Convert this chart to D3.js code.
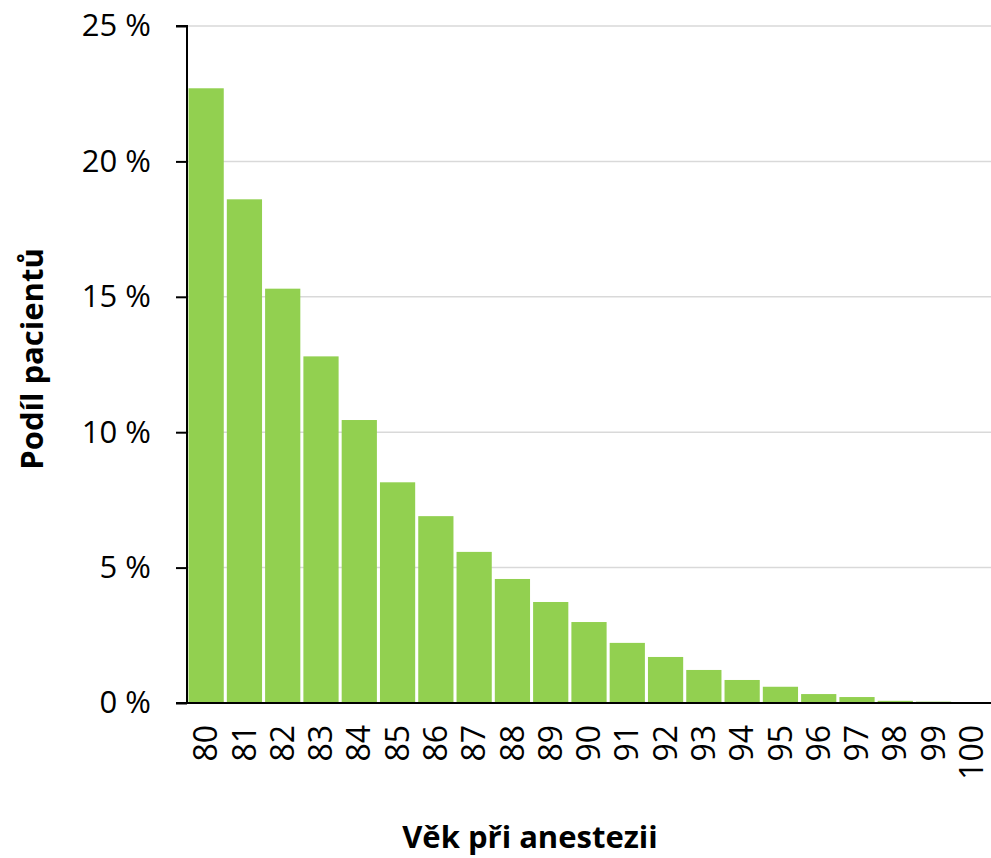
<!DOCTYPE html>
<html><head><meta charset="utf-8">
<script src="https://cdn.jsdelivr.net/npm/d3@7"></script>
<style>body{margin:0;background:#fff}</style>
</head><body>
<svg id="c" width="991" height="858"></svg>
<script>
const categories = ["80","81","82","83","84","85","86","87","88","89","90","91","92","93","94","95","96","97","98","99","100"];
const values = [22.7,18.6,15.3,12.8,10.45,8.15,6.9,5.58,4.58,3.73,2.99,2.22,1.7,1.22,0.85,0.6,0.33,0.22,0.08,0.05,0.01];
const yTicks = [0,5,10,15,20,25];

const svg = d3.select("#c");
const mLeft = 187, mRight = 991, mTop = 26, mBottom = 703;
const font = "'Open Sans', 'Noto Sans', sans-serif";

const x = d3.scaleBand().domain(categories).range([mLeft, mRight]).paddingInner(0.08).paddingOuter(0.04);
const y = d3.scaleLinear().domain([0, 25]).range([mBottom, mTop]);

// gridlines
svg.append("g").selectAll("line").data(yTicks.filter(d => d > 0)).join("line")
  .attr("x1", mLeft).attr("x2", mRight).attr("y1", d => y(d)).attr("y2", d => y(d))
  .attr("stroke", "#d9d9d9").attr("stroke-width", 1.5);

// bars
svg.append("g").selectAll("rect").data(values).join("rect")
  .attr("x", (d, i) => x(categories[i]))
  .attr("width", x.bandwidth())
  .attr("y", d => y(d))
  .attr("height", d => mBottom - y(d))
  .attr("fill", "#92d050");

// y axis
const yAxis = svg.append("g").attr("transform", `translate(${mLeft},0)`)
  .call(d3.axisLeft(y).tickValues(yTicks).tickSize(11).tickPadding(25).tickFormat(d => d + " %"));
yAxis.select(".domain").attr("stroke", "#000").attr("stroke-width", 2).attr("d", `M-11,${mTop}H0V${mBottom}H-11`);
yAxis.selectAll(".tick line").attr("stroke", "#000").attr("stroke-width", 2);
yAxis.selectAll("text").attr("font-family", font).attr("font-size", 31).attr("fill", "#000");

// x axis
const xAxis = svg.append("g").attr("transform", `translate(0,${mBottom})`)
  .call(d3.axisBottom(x).tickSize(0).tickPadding(0));
xAxis.select(".domain").attr("stroke", "#000").attr("stroke-width", 2).attr("d", `M${mLeft},0H${mRight}`);
xAxis.selectAll("text")
  .attr("font-family", font).attr("font-size", 32).attr("fill", "#000")
  .attr("transform", "translate(0,22) rotate(-90)")
  .attr("text-anchor", "end").attr("dy", "0.35em").attr("y", 0).attr("x", 0);

// titles
svg.append("text").attr("x", 530).attr("y", 848).attr("text-anchor", "middle")
  .attr("font-family", font).attr("font-weight", "bold").attr("font-size", 31).text("Věk při anestezii");
svg.append("text").attr("transform", "translate(43,359) rotate(-90)").attr("text-anchor", "middle")
  .attr("font-family", font).attr("font-weight", "bold").attr("font-size", 31).text("Podíl pacientů");
</script>
</body></html>
